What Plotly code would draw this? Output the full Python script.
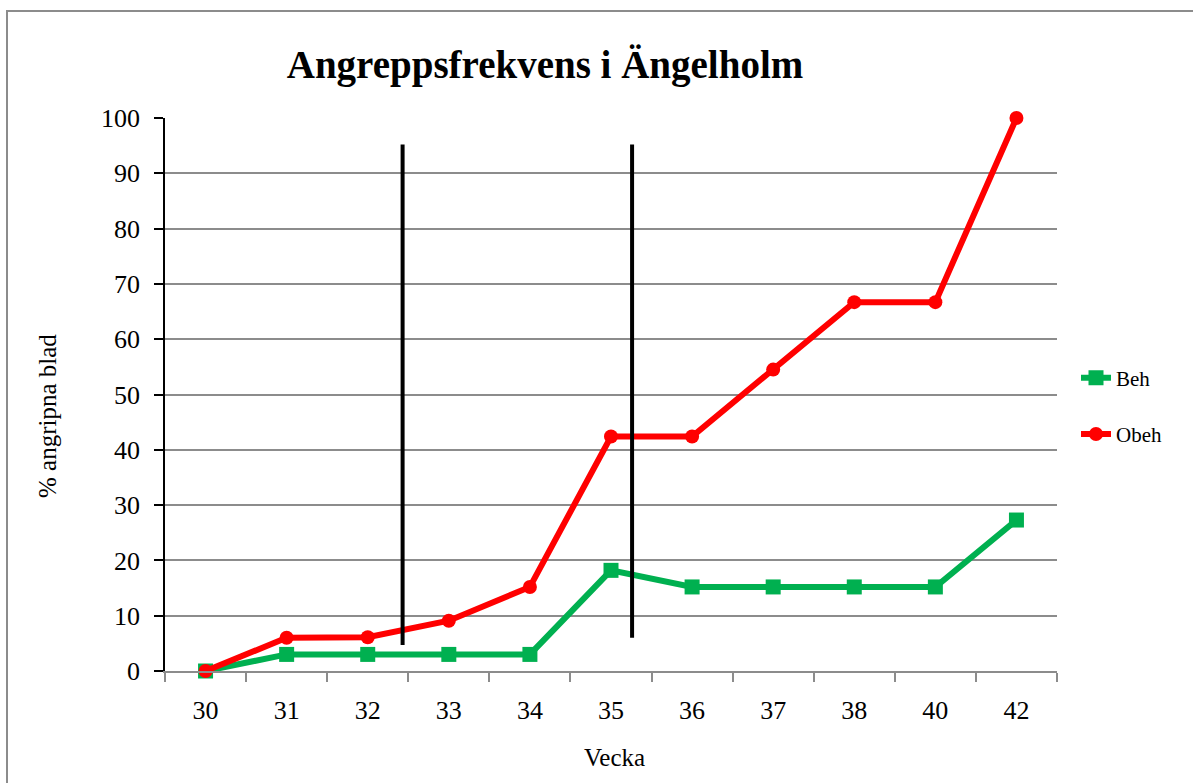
import plotly.graph_objects as go

weeks = ["30", "31", "32", "33", "34", "35", "36", "37", "38", "40", "42"]
beh = [0, 3.0, 3.0, 3.0, 3.0, 18.2, 15.2, 15.2, 15.2, 15.2, 27.3]
obeh = [0, 6.0, 6.1, 9.1, 15.2, 42.4, 42.4, 54.5, 66.7, 66.7, 100]

# treatment divider lines (position as category index, value range)
divider_x = [2.43, 5.26]
divider_bottom = [4.7, 6.0]
divider_top = [95.2, 95.2]

y_ticks = list(range(0, 101, 10))

FONT = "Liberation Serif, Times New Roman, serif"
W, H = 1193, 783
L, R, T, B = 165, 136, 118, 112
PW, PH = W - L - R, H - T - B

fig = go.Figure()
fig.add_trace(go.Scatter(
    x=weeks, y=beh, name="Beh", mode="lines+markers", legendgroup="beh",
    line=dict(color="#00b050", width=6), cliponaxis=False,
    marker=dict(symbol="square", size=15, color="#00b050"),
))
fig.add_trace(go.Scatter(
    x=weeks, y=obeh, name="Obeh", mode="lines+markers", legendgroup="obeh",
    line=dict(color="#ff0000", width=6), cliponaxis=False,
    marker=dict(symbol="circle", size=14, color="#ff0000"),
))
for xv, yb, yt in zip(divider_x, divider_bottom, divider_top):
    fig.add_trace(go.Scatter(
        x=[xv, xv], y=[yb, yt], mode="lines", xaxis="x2",
        line=dict(color="black", width=4), showlegend=False, hoverinfo="skip",
    ))

fig.update_layout(
    width=W, height=H,
    margin=dict(l=L, r=R, t=T, b=B),
    paper_bgcolor="white", plot_bgcolor="white",
    font=dict(family=FONT, size=26, color="black"),
    title=dict(text="<b>Angreppsfrekvens i Ängelholm</b>", x=545 / W, xanchor="center",
               y=1 - 64 / H, yanchor="middle", font=dict(size=39, family=FONT)),
    xaxis=dict(
        type="category", categoryorder="array", categoryarray=weeks,
        range=[-0.5, len(weeks) - 0.5],
        showline=True, linecolor="#8c8c8c", linewidth=2,
        ticks="outside", tickson="boundaries", ticklen=9, tickcolor="#8c8c8c", tickwidth=2,
        showgrid=False, tickfont=dict(size=26), ticklabelstandoff=15,
    ),
    xaxis2=dict(overlaying="x", range=[-0.5, len(weeks) - 0.5], visible=False),
    yaxis=dict(
        range=[0, 100], tickvals=y_ticks, showline=True, linecolor="black", linewidth=1.5,
        ticks="outside", ticklen=9, tickcolor="black", tickwidth=2,
        showgrid=True, gridcolor="#8c8c8c", gridwidth=1.5, zeroline=False,
        tickfont=dict(size=26), ticklabelstandoff=9,
    ),
    annotations=[
        dict(text="Vecka", xref="paper", yref="paper", x=(614 - L) / PW, y=(H - B - 757) / PH,
             xanchor="center", yanchor="middle", showarrow=False, font=dict(size=25)),
        dict(text="% angripna blad", xref="paper", yref="paper", x=(47 - L) / PW,
             y=(H - B - 416) / PH, xanchor="center", yanchor="middle", textangle=-90,
             showarrow=False, font=dict(size=25)),
    ],
    legend=dict(x=(1076 - L) / PW, xanchor="left", y=(H - B - 406) / PH, yanchor="middle",
                font=dict(size=21, family=FONT), tracegroupgap=26,
                bgcolor="rgba(0,0,0,0)"),
    shapes=[dict(type="rect", xref="paper", yref="paper",
                 x0=(7 - L) / PW, x1=1.2, y0=-0.3, y1=(H - B - 11) / PH,
                 line=dict(color="#8c8c8c", width=2), layer="below")],
)

fig.write_html("out.html", config={"displayModeBar": False},
               post_script="document.body.style.margin='0';")
